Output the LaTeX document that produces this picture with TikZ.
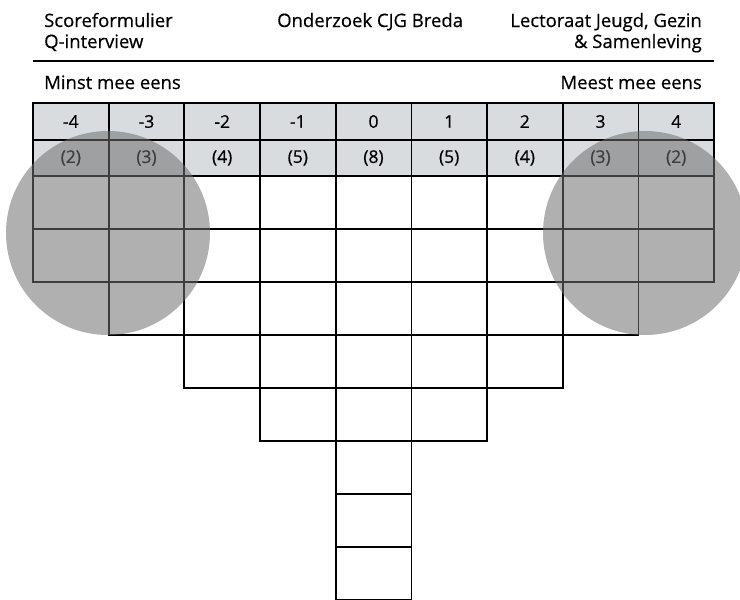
\documentclass[tikz,border=0pt]{standalone}
\usepackage{fontspec}
\setmainfont{Open Sans}[UprightFeatures={FakeBold=0.5}]
\usetikzlibrary{positioning}
\definecolor{headgray}{RGB}{217,220,222}
\definecolor{dotgray}{RGB}{112,112,112}

\begin{document}
\begin{tikzpicture}[x=1pt, y=-1pt,
  title/.style={font=\fontsize{18.5}{21}\selectfont, inner sep=0pt},
  cell/.style={draw=black, line width=1.7pt, rectangle, inner sep=0pt, minimum width=75.67pt},
  headcell/.style={cell, fill=headgray, font=\fontsize{17.5}{20}\selectfont},
  slot/.style={cell, minimum height=53pt},
  spot/.style={fill=dotgray, opacity=0.55}]

\useasboundingbox (0,0) rectangle (740,600);

% kop
\node[title, anchor=base west] (score) at (44,27) {Scoreformulier};
\node[title, anchor=base west] (qint) at (44,48) {Q-interview};
\node[title, anchor=base west] (cjg) at (277,27) {Onderzoek CJG Breda};
\node[title, anchor=base east] (lect) at (702,27) {Lectoraat Jeugd, Gezin};
\node[title, anchor=base east] (samen) at (702,48) {\& Samenleving};
\draw[line width=2.8pt] (33,61) coordinate (rulel) -- (714,61) coordinate (ruler);

\node[title, anchor=base west] (minst) at (44,89) {Minst mee eens};
\node[title, anchor=base east] (meest) at (702,89) {Meest mee eens};

% raster
\foreach \v/\n [count=\i] in {-4/2,-3/3,-2/4,-1/5,0/8,1/5,2/4,3/3,4/2} {
  \pgfmathsetmacro\cx{33+(\i-0.5)*75.67}
  \node[headcell, minimum height=37pt] (score\i) at (\cx,121.5) {\v};
  \node[headcell, minimum height=36pt] (count\i) at (\cx,158) {(\n)};
  \foreach \k in {1,...,\n} {
    \node[slot] (slot\i-\k) at (\cx,{176+53*(\k-0.5)}) {};
  }
}

% markering
\fill[spot] (108,233) circle (102pt);
\fill[spot] (645,233) circle (102pt);

\end{tikzpicture}
\end{document}
